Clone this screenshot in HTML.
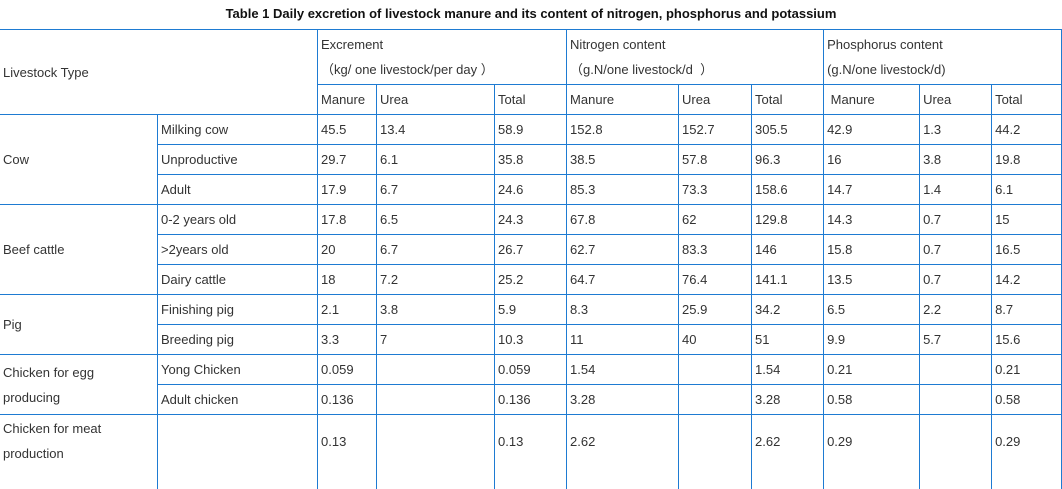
<!DOCTYPE html>
<html><head><meta charset="utf-8"><style>
body{margin:0;width:1062px;height:468px;overflow:hidden;background:#fff;position:relative;font-family:"Liberation Sans","Noto Sans CJK SC",sans-serif;font-size:13px;color:#333}
.title{position:absolute;left:0;top:0;width:1062px;height:29px;line-height:28px;text-align:center;font-weight:bold;color:#111}
table{position:absolute;left:-1px;top:29px;border-collapse:collapse;table-layout:fixed;width:1062px}
td{border:1px solid #1e7bd2;padding:0 0 0 3px;height:29px;line-height:25px;vertical-align:middle;white-space:nowrap;overflow:hidden}
tr.h1 td{height:54px}
tr.last td{height:60px;border-bottom:none}
</style></head><body>
<div class="title">Table 1 Daily excretion of livestock manure and its content of nitrogen, phosphorus and potassium</div>
<table>
<colgroup><col style="width:158px"><col style="width:160px"><col style="width:59px"><col style="width:118px"><col style="width:72px"><col style="width:112px"><col style="width:73px"><col style="width:72px"><col style="width:96px"><col style="width:72px"><col style="width:70px"></colgroup>
<tr class="h1">
<td colspan="2" rowspan="2">Livestock Type</td>
<td colspan="3">Excrement<br>（kg/ one livestock/per day ）</td>
<td colspan="3">Nitrogen content<br>（g.N/one livestock/d &nbsp;）</td>
<td colspan="3">Phosphorus content<br>(g.N/one livestock/d)</td>
</tr>
<tr>
<td>Manure</td><td>Urea</td><td>Total</td><td>Manure</td><td>Urea</td><td>Total</td><td>&nbsp;Manure</td><td>Urea</td><td>Total</td>
</tr>
<tr><td rowspan="3">Cow</td><td>Milking cow</td><td>45.5</td><td>13.4</td><td>58.9</td><td>152.8</td><td>152.7</td><td>305.5</td><td>42.9</td><td>1.3</td><td>44.2</td></tr>
<tr><td>Unproductive</td><td>29.7</td><td>6.1</td><td>35.8</td><td>38.5</td><td>57.8</td><td>96.3</td><td>16</td><td>3.8</td><td>19.8</td></tr>
<tr><td>Adult</td><td>17.9</td><td>6.7</td><td>24.6</td><td>85.3</td><td>73.3</td><td>158.6</td><td>14.7</td><td>1.4</td><td>6.1</td></tr>
<tr><td rowspan="3">Beef cattle</td><td>0-2 years old</td><td>17.8</td><td>6.5</td><td>24.3</td><td>67.8</td><td>62</td><td>129.8</td><td>14.3</td><td>0.7</td><td>15</td></tr>
<tr><td>&gt;2years old</td><td>20</td><td>6.7</td><td>26.7</td><td>62.7</td><td>83.3</td><td>146</td><td>15.8</td><td>0.7</td><td>16.5</td></tr>
<tr><td>Dairy cattle</td><td>18</td><td>7.2</td><td>25.2</td><td>64.7</td><td>76.4</td><td>141.1</td><td>13.5</td><td>0.7</td><td>14.2</td></tr>
<tr><td rowspan="2">Pig</td><td>Finishing pig</td><td>2.1</td><td>3.8</td><td>5.9</td><td>8.3</td><td>25.9</td><td>34.2</td><td>6.5</td><td>2.2</td><td>8.7</td></tr>
<tr><td>Breeding pig</td><td>3.3</td><td>7</td><td>10.3</td><td>11</td><td>40</td><td>51</td><td>9.9</td><td>5.7</td><td>15.6</td></tr>
<tr><td rowspan="2">Chicken for egg<br>producing</td><td>Yong Chicken</td><td>0.059</td><td></td><td>0.059</td><td>1.54</td><td></td><td>1.54</td><td>0.21</td><td></td><td>0.21</td></tr>
<tr><td>Adult chicken</td><td>0.136</td><td></td><td>0.136</td><td>3.28</td><td></td><td>3.28</td><td>0.58</td><td></td><td>0.58</td></tr>
<tr class="last"><td style="vertical-align:top;padding-top:1px">Chicken for meat<br>production</td><td></td><td style="vertical-align:top;padding-top:14px">0.13</td><td></td><td style="vertical-align:top;padding-top:14px">0.13</td><td style="vertical-align:top;padding-top:14px">2.62</td><td></td><td style="vertical-align:top;padding-top:14px">2.62</td><td style="vertical-align:top;padding-top:14px">0.29</td><td></td><td style="vertical-align:top;padding-top:14px">0.29</td></tr>
</table>
</body></html>
